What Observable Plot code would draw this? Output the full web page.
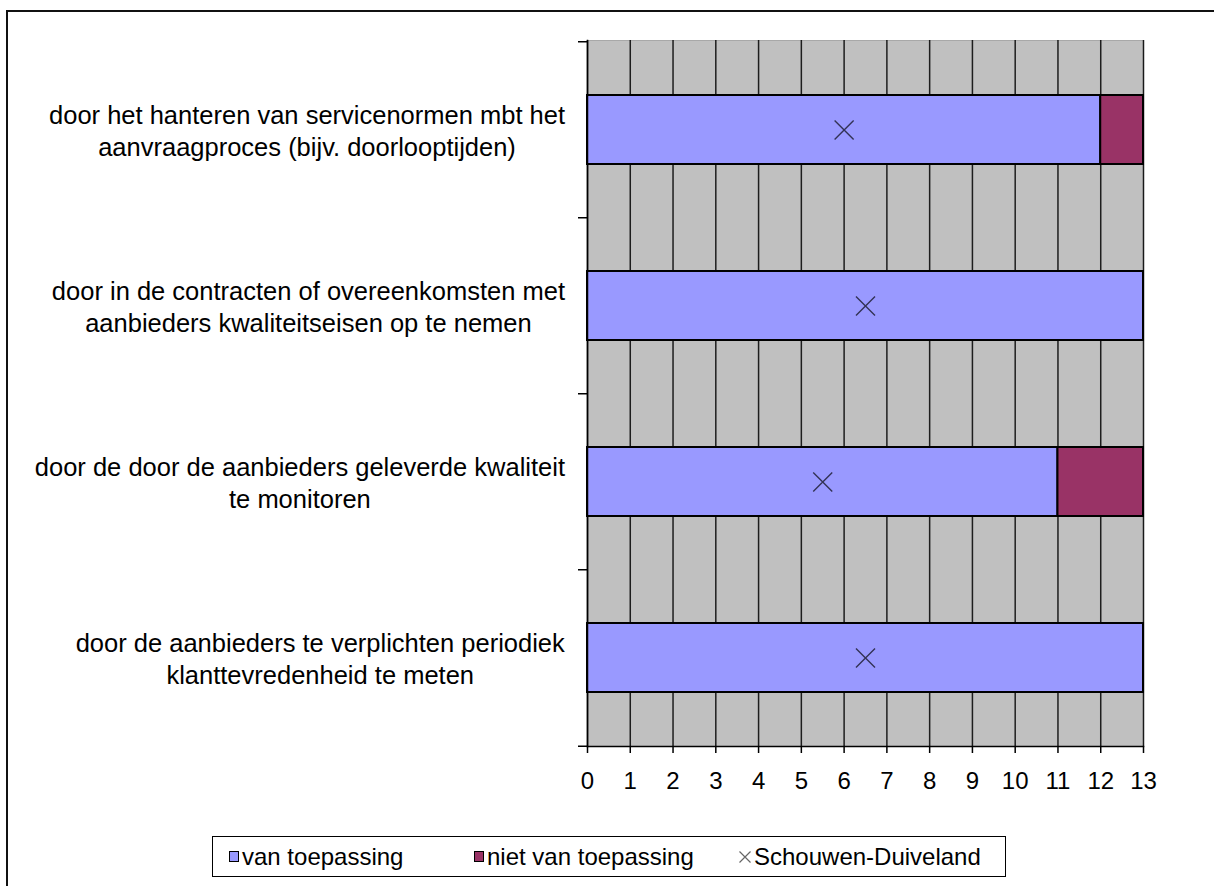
<!DOCTYPE html>
<html><head><meta charset="utf-8">
<script src="https://cdn.jsdelivr.net/npm/d3@7"></script>
<script src="https://cdn.jsdelivr.net/npm/@observablehq/plot@0.6"></script>
<style>
body{margin:0;background:#fff;font-family:"Liberation Sans",Arial,sans-serif;}
#wrap{position:relative;width:1214px;height:886px;overflow:hidden;background:#fff;}
#frame{position:absolute;left:6px;top:10px;width:1400px;height:1000px;border-left:2px solid #111;border-top:2px solid #111;}
#chart{position:absolute;left:0;top:0;}
#legend{position:absolute;left:212px;top:836px;width:792px;height:39px;border:1.5px solid #000;font-size:24px;color:#000;}
#legend .it{position:absolute;top:0;height:39px;display:flex;align-items:center;white-space:nowrap;}
#legend .sw{display:inline-block;width:8px;height:9px;border:1.5px solid #000;margin-right:3px;}
</style></head>
<body><div id="wrap"><div id="frame"></div><div id="chart"></div><div id="legend"></div></div>
<script>
const categories = [
  "door het hanteren van servicenormen mbt het\naanvraagproces (bijv. doorlooptijden)",
  "door in de contracten of overeenkomsten met\naanbieders kwaliteitseisen op te nemen",
  "door de door de aanbieders geleverde kwaliteit\nte monitoren",
  "door de aanbieders te verplichten periodiek\nklanttevredenheid te meten"
];
const vanToepassing = [12, 13, 11, 13];
const nietVanToepassing = [1, 0, 2, 0];
const schouwenDuiveland = [6, 6.5, 5.5, 6.5];
const seriesNames = ["van toepassing", "niet van toepassing", "Schouwen-Duiveland"];
const seriesColors = ["#9999ff", "#993366", "#333355"];
const xTicks = [0, 1, 2, 3, 4, 5, 6, 7, 8, 9, 10, 11, 12, 13];

const W = 1214, H = 886, mL = 587, mR = 71, mT = 40, mB = 140;
const step = (H - mT - mB) / categories.length;

const barRows = categories.flatMap((c, i) => [
  {cat: c, series: seriesNames[0], value: vanToepassing[i]},
  {cat: c, series: seriesNames[1], value: nietVanToepassing[i]}
]).filter(d => d.value > 0);
const markRows = categories.map((c, i) => ({cat: c, value: schouwenDuiveland[i]}));

const chart = Plot.plot({
  width: W, height: H,
  marginLeft: mL, marginRight: mR, marginTop: mT, marginBottom: mB,
  style: {fontFamily: '"Liberation Sans", Arial, sans-serif', background: "transparent", color: "#000"},
  x: {domain: [0, 13], axis: null, label: null},
  y: {type: "band", domain: categories, paddingInner: 0.61, paddingOuter: 0.305, axis: null, label: null},
  color: {domain: seriesNames.slice(0, 2), range: seriesColors.slice(0, 2)},
  marks: [
    Plot.frame({fill: "#c0c0c0", stroke: "#a8a8a8"}),
    Plot.gridX(xTicks, {stroke: "#000", strokeOpacity: 0.85, strokeWidth: 1.5}),
    Plot.barX(barRows, Plot.stackX({y: "cat", x: "value", fill: "series", order: seriesNames.slice(0, 2), stroke: "#000", strokeWidth: 2})),
    Plot.dot(markRows, {x: "value", y: "cat", symbol: "times", r: 8.7, stroke: seriesColors[2], strokeWidth: 1.4}),
    Plot.frame({anchor: "left", stroke: "#000", strokeWidth: 1.5}),
    Plot.frame({anchor: "bottom", stroke: "#000", strokeWidth: 1.5}),
    Plot.axisY({ticks: categories, tickSize: 9, tickFormat: () => "", label: null, dy: -step / 2, stroke: "#000", strokeWidth: 1.5}),
    Plot.axisY({ticks: categories.slice(-1), tickSize: 9, tickFormat: () => "", label: null, dy: step / 2, stroke: "#000", strokeWidth: 1.5}),
    Plot.axisX(xTicks, {anchor: "bottom", tickSize: 7, tickPadding: 18, fontSize: 24, label: null, tickFormat: d => String(d), stroke: "#000", strokeWidth: 1.5}),
    Plot.text(categories, {y: d => d, text: d => d, frameAnchor: "left", textAnchor: "middle", dx: -290, dy: 0, fontSize: 25.5, lineHeight: 1.255, fill: "#000", className: "catlabels"})
  ]
});
document.getElementById("chart").appendChild(chart);

// right-align each label block at x = 565 while keeping lines centered within the block
const rightEdge = 565;
const svgBox = chart.getBoundingClientRect();
chart.querySelectorAll(".catlabels text").forEach(t => {
  const r = t.getBoundingClientRect();
  const shift = rightEdge - (r.right - svgBox.left);
  const tr = t.getAttribute("transform") || "";
  t.setAttribute("transform", `translate(${shift},0) ` + tr);
});

// legend
const legend = document.getElementById("legend");
const items = [
  {name: seriesNames[0], left: 16, kind: "box", color: seriesColors[0]},
  {name: seriesNames[1], left: 261, kind: "box", color: seriesColors[1]},
  {name: seriesNames[2], left: 525, kind: "x", color: "#666"}
];
items.forEach(it => {
  const d = document.createElement("div");
  d.className = "it";
  d.style.left = it.left + "px";
  if (it.kind === "box") {
    const s = document.createElement("span");
    s.className = "sw";
    s.style.background = it.color;
    d.appendChild(s);
  } else {
    d.insertAdjacentHTML("beforeend", `<svg width="14" height="14" style="margin-right:2px"><path d="M1.5,1.5L12.5,12.5M12.5,1.5L1.5,12.5" stroke="${it.color}" stroke-width="1.2"/></svg>`);
  }
  d.appendChild(document.createTextNode(it.name));
  legend.appendChild(d);
});
</script>
</body></html>
